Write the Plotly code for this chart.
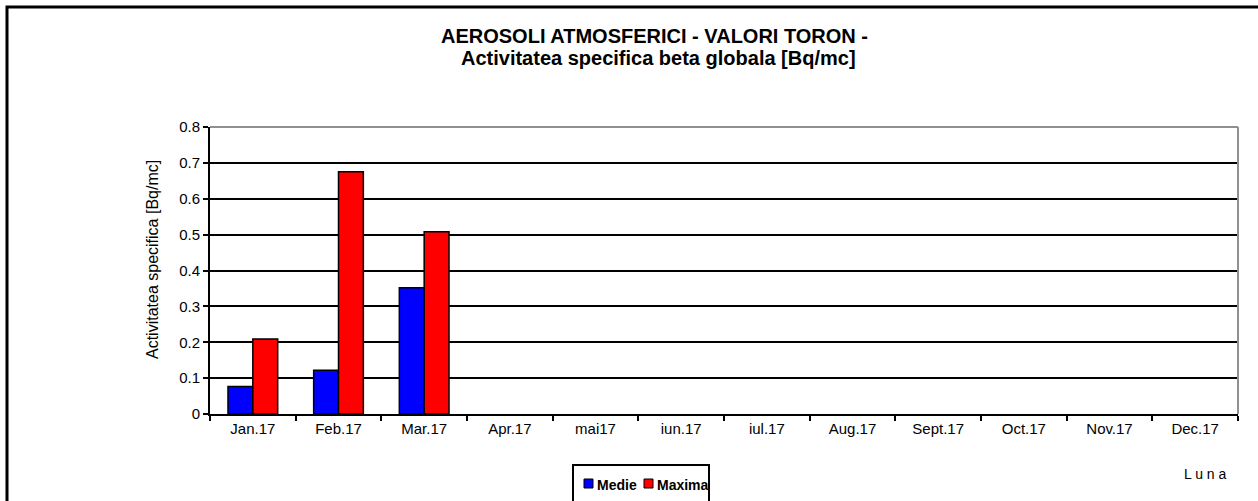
import plotly.graph_objects as go

categories = ["Jan.17", "Feb.17", "Mar.17", "Apr.17", "mai17", "iun.17", "iul.17",
              "Aug.17", "Sept.17", "Oct.17", "Nov.17", "Dec.17"]
medie = [0.077, 0.122, 0.352, None, None, None, None, None, None, None, None, None]
maxima = [0.209, 0.675, 0.508, None, None, None, None, None, None, None, None, None]
series_names = ["Medie", "Maxima"]
series_colors = ["#0000ff", "#ff0000"]
y_ticks = [0, 0.1, 0.2, 0.3, 0.4, 0.5, 0.6, 0.7, 0.8]
y_tick_labels = ["0", "0.1", "0.2", "0.3", "0.4", "0.5", "0.6", "0.7", "0.8"]
title_lines = ["AEROSOLI ATMOSFERICI - VALORI TORON -",
               "Activitatea specifica beta globala [Bq/mc]"]

W, H = 1258, 501
L, R, T, B = 210, 20, 127, 87
pw, ph = W - L - R, H - T - B

def px(x):
    return (x - L) / pw

def py(y):
    return (H - B - y) / ph

fig = go.Figure()
for name, vals, col in zip(series_names, [medie, maxima], series_colors):
    fig.add_trace(go.Bar(x=categories, y=vals, name=name, showlegend=False,
                         marker=dict(color=col, line=dict(color="black", width=1.5))))

def ann(text, x, y, size, xanchor="center", yanchor="middle", angle=0):
    return dict(text=text, x=px(x), y=py(y), xref="paper", yref="paper",
                xanchor=xanchor, yanchor=yanchor, textangle=angle,
                showarrow=False, font=dict(size=size))

annotations = [
    ann("<b>%s</b>" % title_lines[0], 654, 36, 20),
    ann("<b>%s</b>" % title_lines[1], 658, 58, 20),
    ann("Activitatea specifica [Bq/mc]", 152, 260, 16, angle=-90),
    ann("L u n a", 1205, 474, 14),
]

shapes = [
    dict(type="line", xref="paper", yref="paper", x0=0, x1=1, y0=1, y1=1,
         line=dict(color="#909090", width=2), layer="above"),
    dict(type="line", xref="paper", yref="paper", x0=1, x1=1, y0=0, y1=1,
         line=dict(color="#909090", width=2), layer="above"),
    dict(type="rect", xref="paper", yref="paper", x0=px(7), x1=px(1266),
         y0=py(510), y1=py(7), line=dict(color="black", width=3), layer="above"),
    # legend box
    dict(type="rect", xref="paper", yref="paper", x0=px(573), x1=px(709),
         y0=py(510), y1=py(465), line=dict(color="black", width=2),
         fillcolor="white", layer="above"),
]

# legend entries
leg_x = [584, 644]
for name, col, lx in zip(series_names, series_colors, leg_x):
    shapes.append(dict(type="rect", xref="paper", yref="paper", x0=px(lx), x1=px(lx + 9),
                       y0=py(488), y1=py(479), fillcolor=col,
                       line=dict(color="black", width=1), layer="above"))
    annotations.append(ann("<b>%s</b>" % name, lx + 11, 485, 14, xanchor="left"))

fig.update_layout(
    width=W, height=H,
    margin=dict(l=L, r=R, t=T, b=B, autoexpand=False),
    paper_bgcolor="white", plot_bgcolor="white",
    font=dict(family="Arial, Liberation Sans, sans-serif", color="black", size=15),
    barmode="group", bargap=0.42, bargroupgap=0,
    xaxis=dict(showline=True, linecolor="black", linewidth=2, ticks="outside",
               tickson="boundaries", ticklen=5, tickwidth=2, tickcolor="black",
               showgrid=False, tickfont=dict(size=15)),
    yaxis=dict(range=[0, 0.8], tickvals=y_ticks, ticktext=y_tick_labels,
               showline=True, linecolor="black", linewidth=2, ticks="outside",
               ticklen=5, tickwidth=2, tickcolor="black",
               showgrid=True, gridcolor="black", gridwidth=2,
               zeroline=False, tickfont=dict(size=15)),
    annotations=annotations,
    shapes=shapes,
)

fig.write_html("out.html", config={"displayModeBar": False},
               post_script="document.body.style.margin='0';")
